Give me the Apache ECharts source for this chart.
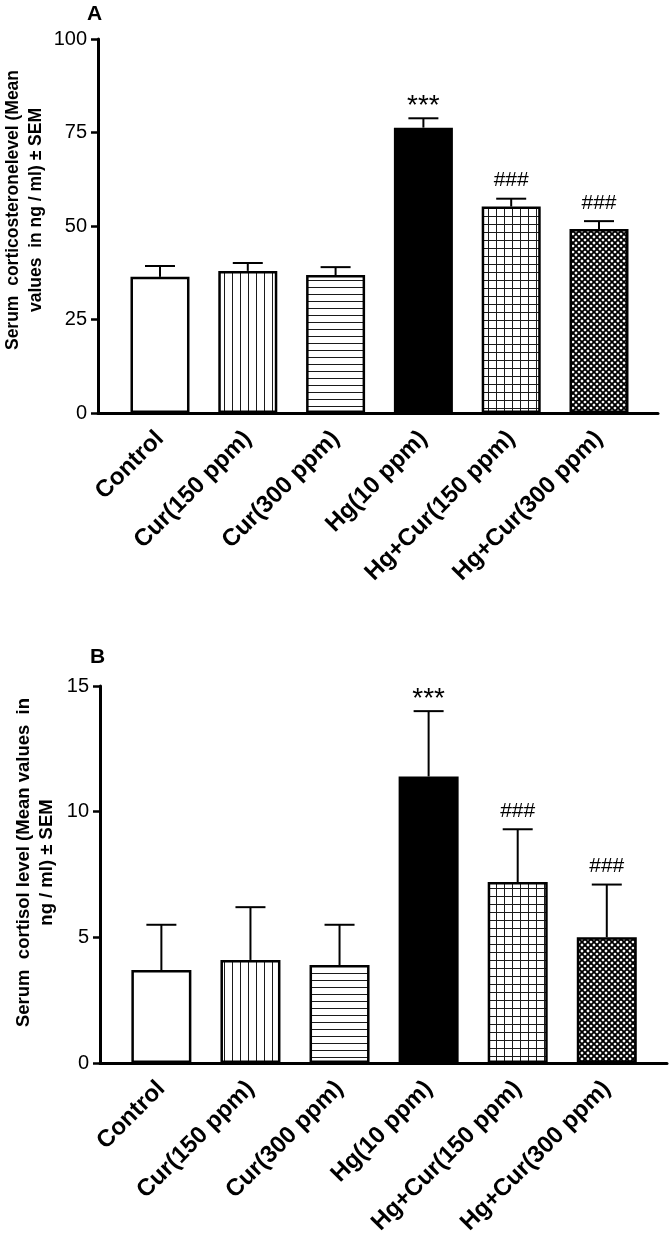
<!DOCTYPE html>
<html>
<head>
<meta charset="utf-8">
<script src="https://cdn.jsdelivr.net/npm/echarts@6/dist/echarts.min.js"></script>
<style>
html,body{margin:0;padding:0;background:#fff;}
#chart{width:670px;height:1236px;}
</style>
</head>
<body>
<div id="chart"></div>
<script>
// ---- data ----
const catLabels = ['Control', 'Cur(150 ppm)', 'Cur(300 ppm)', 'Hg(10 ppm)', 'Hg+Cur(150 ppm)', 'Hg+Cur(300 ppm)'];
const corticoMean = [36.4, 38.0, 36.9, 76.3, 55.2, 49.2];
const corticoSem = [2.9, 2.1, 2.1, 2.5, 2.1, 2.1];
const cortisolMean = [3.7, 4.1, 3.9, 11.4, 7.2, 5.0];
const cortisolSem = [1.8, 2.1, 1.6, 2.6, 2.1, 2.1];
const sigMarks = ['', '', '', '***', '###', '###'];
const corticoAxis = { min: 0, max: 100, interval: 25 };
const cortisolAxis = { min: 0, max: 15, interval: 5 };
const fillKinds = ['none', 'vstripe', 'hstripe', 'solid', 'grid', 'cross'];

const FONT = 'Liberation Sans, Arial, sans-serif';

function pattern(kind) {
  if (kind === 'none') return '#ffffff';
  if (kind === 'solid') return '#000000';
  const c = document.createElement('canvas');
  let w = 8, h = 8;
  if (kind === 'hstripe') { h = 7; }
  if (kind === 'cross') { w = 6; h = 6; }
  c.width = w; c.height = h;
  const g = c.getContext('2d');
  g.fillStyle = '#ffffff';
  g.fillRect(0, 0, w, h);
  g.strokeStyle = '#1a1a1a';
  g.lineWidth = 1;
  g.beginPath();
  if (kind === 'vstripe' || kind === 'grid') { g.moveTo(0.5, 0); g.lineTo(0.5, h); }
  if (kind === 'hstripe' || kind === 'grid') { g.moveTo(0, 0.5); g.lineTo(w, 0.5); }
  if (kind === 'cross') {
    g.strokeStyle = '#000000';
    g.lineWidth = 1.9;
    for (let k = -1; k <= 1; k++) {
      g.moveTo(k * w, 0); g.lineTo(k * w + w, h);
      g.moveTo(k * w + w, 0); g.lineTo(k * w, h);
    }
  }
  g.stroke();
  return { image: c, repeat: 'repeat' };
}

const fills = fillKinds.map(pattern);

function barData(means) {
  return means.map((v, i) => ({ value: [i, v], itemStyle: { color: fills[i] } }));
}
function errData(means, sems) {
  return means.map((v, i) => [i, v, sems[i]]);
}

function renderErr(params, api) {
  const i = api.value(0), m = api.value(1), s = api.value(2);
  const base = api.coord([i, m]);
  const top = api.coord([i, m + s]);
  const mark = sigMarks[params.dataIndex];
  const children = [
    { type: 'line', shape: { x1: base[0], y1: base[1], x2: top[0], y2: top[1] }, style: { stroke: '#000', lineWidth: 2 } },
    { type: 'line', shape: { x1: top[0] - 15, y1: top[1], x2: top[0] + 15, y2: top[1] }, style: { stroke: '#000', lineWidth: 2 } }
  ];
  if (mark) {
    const star = mark.indexOf('*') >= 0;
    children.push({
      type: 'text',
      style: {
        text: mark, x: top[0], y: top[1] - (star ? 12 : 18),
        align: 'center', verticalAlign: 'middle',
        fontSize: star ? 28 : 21, fontFamily: FONT, fill: '#000'
      }
    });
  }
  return { type: 'group', children };
}

function xAxisCfg(gridIndex, min, max) {
  return {
    gridIndex, type: 'value', min, max,
    axisLine: { show: true, onZero: false, lineStyle: { color: '#000', width: 3 } },
    axisTick: { show: false },
    splitLine: { show: false },
    axisLabel: {
      customValues: [0, 1, 2, 3, 4, 5],
      formatter: v => catLabels[Math.round(v)] || '',
      rotate: 45, margin: 22,
      fontSize: 24, fontWeight: 'bold', color: '#000', fontFamily: FONT
    }
  };
}

function yAxisCfg(gridIndex, ax, name, gap, pad, fs) {
  return {
    gridIndex, type: 'value', min: ax.min, max: ax.max, interval: ax.interval,
    name, nameLocation: 'middle', nameGap: gap, nameRotate: 90, nameMoveOverlap: false,
    nameTextStyle: { fontSize: fs, fontWeight: 'bold', color: '#000', fontFamily: FONT, lineHeight: 23, padding: [0, 0, 0, pad] },
    axisLine: { show: true, onZero: false, lineStyle: { color: '#000', width: 3 } },
    axisTick: { show: true, length: 7, lineStyle: { color: '#000', width: 2.5 } },
    splitLine: { show: false },
    axisLabel: { margin: 11, fontSize: 20, color: '#000', fontFamily: FONT }
  };
}

const chart = echarts.init(document.getElementById('chart'), null, { renderer: 'canvas' });
chart.setOption({
  animation: false,
  backgroundColor: '#fff',
  textStyle: { fontFamily: FONT },
  title: [
    { text: 'A', left: 87, top: 4, padding: 0, textStyle: { fontSize: 21, fontWeight: 'bold', color: '#000', fontFamily: FONT } },
    { text: 'B', left: 90, top: 647, padding: 0, textStyle: { fontSize: 21, fontWeight: 'bold', color: '#000', fontFamily: FONT } }
  ],
  grid: [
    { left: 98, top: 39, width: 560, height: 374, containLabel: false, outerBoundsMode: 'none' },
    { left: 100, top: 686, width: 567, height: 377, containLabel: false, outerBoundsMode: 'none' }
  ],
  xAxis: [ xAxisCfg(0, -0.706, 5.672), xAxisCfg(1, -0.689, 5.676) ],
  yAxis: [
    yAxisCfg(0, corticoAxis, 'Serum  corticosteronelevel (Mean\nvalues  in ng / ml) ± SEM', 50, 32, 17.5),
    yAxisCfg(1, cortisolAxis, 'Serum  cortisol level (Mean values  in\nng / ml) ± SEM', 42, 24, 18.5)
  ],
  series: [
    { type: 'bar', xAxisIndex: 0, yAxisIndex: 0, barWidth: 59, data: barData(corticoMean),
      itemStyle: { borderColor: '#000', borderWidth: 2.5 } },
    { type: 'custom', xAxisIndex: 0, yAxisIndex: 0, renderItem: renderErr, data: errData(corticoMean, corticoSem), z: 5 },
    { type: 'bar', xAxisIndex: 1, yAxisIndex: 1, barWidth: 60, data: barData(cortisolMean),
      itemStyle: { borderColor: '#000', borderWidth: 2.5 } },
    { type: 'custom', xAxisIndex: 1, yAxisIndex: 1, renderItem: renderErr, data: errData(cortisolMean, cortisolSem), z: 5 }
  ]
});
</script>
</body>
</html>
